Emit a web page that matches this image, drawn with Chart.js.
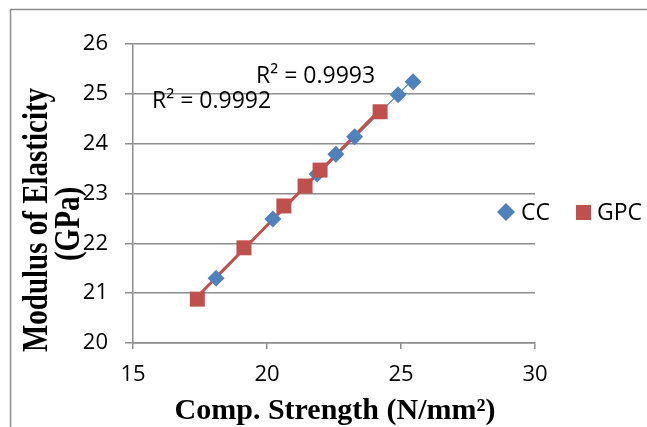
<!DOCTYPE html>
<html>
<head>
<meta charset="utf-8">
<script src="https://cdn.jsdelivr.net/npm/chart.js@4/dist/chart.umd.min.js"></script>
<style>
html,body{margin:0;padding:0;background:#fff;}
#wrap{position:relative;width:647px;height:427px;}
</style>
</head>
<body>
<div id="wrap"><canvas id="c" width="647" height="427"></canvas></div>
<script>
// Data
const ccStrength  = [18.10, 20.22, 21.87, 22.57, 23.27, 24.89, 25.45];
const ccModulus   = [21.30, 22.49, 23.39, 23.79, 24.14, 24.98, 25.24];
const gpcStrength = [17.40, 19.14, 20.63, 21.42, 21.98, 24.22];
const gpcModulus  = [20.88, 21.91, 22.75, 23.15, 23.47, 24.64];
const xTicks = [15, 20, 25, 30];
const yTicks = [20, 21, 22, 23, 24, 25, 26];
const seriesNames = ['CC', 'GPC'];
const r2Labels = ['R² = 0.9993', 'R² = 0.9992'];
const xTitle = 'Comp. Strength (N/mm²)';
const yTitle = ['Modulus of Elasticity', '(GPa)'];

const BLUE = '#4F81BD', RED = '#C0504D';

function toPoints(xs, ys){ return xs.map((x,i)=>({x:x, y:ys[i]})); }
function trend(xs, ys){
  const n = xs.length;
  const mx = xs.reduce((a,b)=>a+b,0)/n, my = ys.reduce((a,b)=>a+b,0)/n;
  let sxy=0, sxx=0;
  for(let i=0;i<n;i++){ sxy+=(xs[i]-mx)*(ys[i]-my); sxx+=(xs[i]-mx)*(xs[i]-mx); }
  const b = sxy/sxx, a = my - b*mx;
  const x0 = Math.min(...xs), x1 = Math.max(...xs);
  return [{x:x0, y:a+b*x0}, {x:x1, y:a+b*x1}];
}

const decor = {
  id:'decor',
  beforeDraw(chart){
    const ctx = chart.ctx;
    ctx.save();
    ctx.strokeStyle = '#8c8c8c';
    ctx.lineWidth = 1.5;
    ctx.beginPath();
    ctx.moveTo(10.5, 427); ctx.lineTo(10.5, 9.5); ctx.lineTo(647, 9.5);
    ctx.stroke();
    ctx.restore();
  },
  afterDraw(chart){
    const ctx = chart.ctx;
    ctx.save();
    ctx.fillStyle = '#000';
    // axis titles
    ctx.font = 'bold 29px "Liberation Serif"';
    ctx.textAlign = 'center';
    ctx.textBaseline = 'middle';
    ctx.save(); ctx.translate(38, 220); ctx.rotate(-Math.PI/2); ctx.scale(1, 1.25); ctx.fillText(yTitle[0], 0, 0); ctx.restore();
    ctx.save(); ctx.translate(70, 224); ctx.rotate(-Math.PI/2); ctx.scale(1, 1.25); ctx.fillText(yTitle[1], 0, 0); ctx.restore();
    ctx.font = 'bold 30px "Liberation Serif"';
    ctx.textBaseline = 'alphabetic';
    ctx.fillText(xTitle, 335, 419);
    // R² labels
    ctx.font = '23px "Open Sans"';
    ctx.textAlign = 'left';
    ctx.textBaseline = 'middle';
    ctx.fillText(r2Labels[0], 256, 76);
    ctx.fillText(r2Labels[1], 152, 101);
    // legend
    ctx.fillStyle = BLUE;
    ctx.beginPath();
    ctx.moveTo(506, 203); ctx.lineTo(515, 212); ctx.lineTo(506, 221); ctx.lineTo(497, 212); ctx.closePath();
    ctx.fill();
    ctx.fillStyle = RED;
    ctx.fillRect(576, 205, 15, 15);
    ctx.fillStyle = '#000';
    ctx.font = '23px "Open Sans"';
    ctx.fillText(seriesNames[0], 521, 213);
    ctx.fillText(seriesNames[1], 597, 213);
    ctx.restore();
  }
};

new Chart(document.getElementById('c'), {
  type:'scatter',
  data:{
    datasets:[
      {label:seriesNames[0]+' trend', type:'line', data:trend(ccStrength, ccModulus), borderColor:BLUE, borderWidth:1.2, pointRadius:0, fill:false, order:3},
      {label:seriesNames[1]+' trend', type:'line', data:trend(gpcStrength, gpcModulus), borderColor:RED, borderWidth:3, pointRadius:0, fill:false, order:2},
      {label:seriesNames[0], data:toPoints(ccStrength, ccModulus), pointStyle:'rectRot', pointRadius:8.5, backgroundColor:BLUE, borderColor:BLUE, borderWidth:0, order:1},
      {label:seriesNames[1], data:toPoints(gpcStrength, gpcModulus), pointStyle:'rect', pointRadius:10.6, backgroundColor:RED, borderColor:RED, borderWidth:0, order:0}
    ]
  },
  options:{
    responsive:false,
    animation:false,
    events:[],
    layout:{padding:{left:0, right:112, top:44, bottom:0}},
    plugins:{legend:{display:false}, tooltip:{enabled:false}},
    scales:{
      x:{
        type:'linear', min:15, max:30,
        afterBuildTicks(s){ s.ticks = xTicks.map(v=>({value:v})); },
        afterFit(s){ s.height = 84; },
        grid:{drawOnChartArea:false, drawTicks:true, tickLength:6, color:'#8c8c8c', lineWidth:1.5},
        border:{color:'#8c8c8c', width:1.5},
        ticks:{color:'#000', font:{family:'"Open Sans"', size:22}, padding:13, maxRotation:0}
      },
      y:{
        type:'linear', min:20, max:26,
        afterBuildTicks(s){ s.ticks = yTicks.map(v=>({value:v})); },
        afterFit(s){ s.width = 133; },
        grid:{drawTicks:true, tickLength:8, color:'#8c8c8c', lineWidth:1.5},
        border:{color:'#8c8c8c', width:1.5},
        ticks:{color:'#000', font:{family:'"Open Sans"', size:22}, padding:17}
      }
    }
  },
  plugins:[decor]
});
</script>
</body>
</html>
